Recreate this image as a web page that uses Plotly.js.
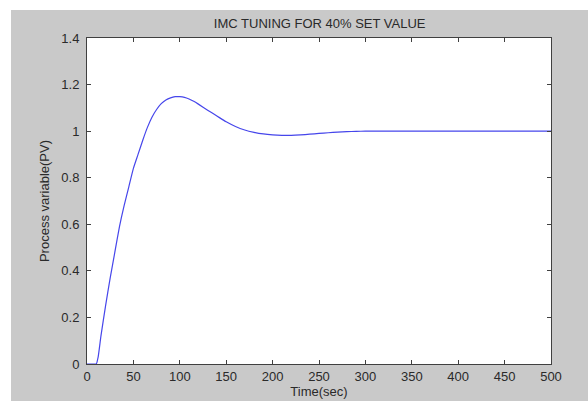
<!DOCTYPE html>
<html>
<head>
<meta charset="utf-8">
<script src="https://cdn.plot.ly/plotly-3.0.1.min.js"></script>
<style>
html,body{margin:0;padding:0;background:#ffffff;}
#chart{position:absolute;left:11px;top:10px;width:577px;height:391px;}
</style>
</head>
<body>
<div id="chart"></div>
<script>
const timeSec = [0,5,10,12,15,20,25,30,35,40,45,50,55,60,65,70,75,80,85,90,95,100,105,110,115,120,130,140,150,160,170,180,190,200,210,220,230,240,250,260,270,280,290,300,320,350,400,450,500];
const processVar = [0,0,0,0.03,0.12,0.25,0.37,0.48,0.59,0.68,0.76,0.84,0.9,0.96,1.015,1.06,1.093,1.118,1.134,1.143,1.148,1.148,1.145,1.138,1.128,1.116,1.09,1.065,1.04,1.02,1.005,0.995,0.988,0.984,0.982,0.982,0.984,0.987,0.99,0.993,0.996,0.998,0.999,1.0,1.0,1.0,1.0,1.0,1.0];
const xTicks = [0,50,100,150,200,250,300,350,400,450,500];
const yTicks = [0,0.2,0.4,0.6,0.8,1,1.2,1.4];
const yTickText = ["0","0.2","0.4","0.6","0.8","1","1.2","1.4"];

const font = {family: "Liberation Sans, Arial, sans-serif", size: 13, color: "#2a2a2a"};

Plotly.newPlot("chart", [{
  x: timeSec, y: processVar, type: "scatter", mode: "lines",
  line: {color: "rgb(70,70,235)", width: 1.2, shape: "spline", smoothing: 0.5},
  hoverinfo: "skip"
}], {
  width: 577, height: 391,
  paper_bgcolor: "#c9c9c9", plot_bgcolor: "#ffffff",
  margin: {l: 76, r: 37, t: 28, b: 37},
  showlegend: false,
  font: font,
  title: {text: "IMC TUNING FOR 40% SET VALUE", font: font, x: 0.535, xanchor: "center", y: 0.965, yanchor: "middle", yref: "container"},
  xaxis: {
    range: [0, 500], tickvals: xTicks, ticktext: xTicks.map(String),
    showgrid: false, zeroline: false,
    showline: true, linecolor: "#404040", linewidth: 1, mirror: "ticks",
    ticks: "inside", ticklen: 4, tickcolor: "#404040",
    tickfont: font, ticklabelstandoff: 0,
    title: {text: "Time(sec)", font: font, standoff: 2}
  },
  yaxis: {
    range: [0, 1.4], tickvals: yTicks, ticktext: yTickText,
    showgrid: false, zeroline: false,
    showline: true, linecolor: "#404040", linewidth: 1, mirror: "ticks",
    ticks: "inside", ticklen: 4, tickcolor: "#404040",
    tickfont: font, ticklabelstandoff: 4,
    title: {text: "Process variable(PV)", font: font, standoff: 8}
  }
}, {displayModeBar: false, staticPlot: true});
</script>
</body>
</html>
